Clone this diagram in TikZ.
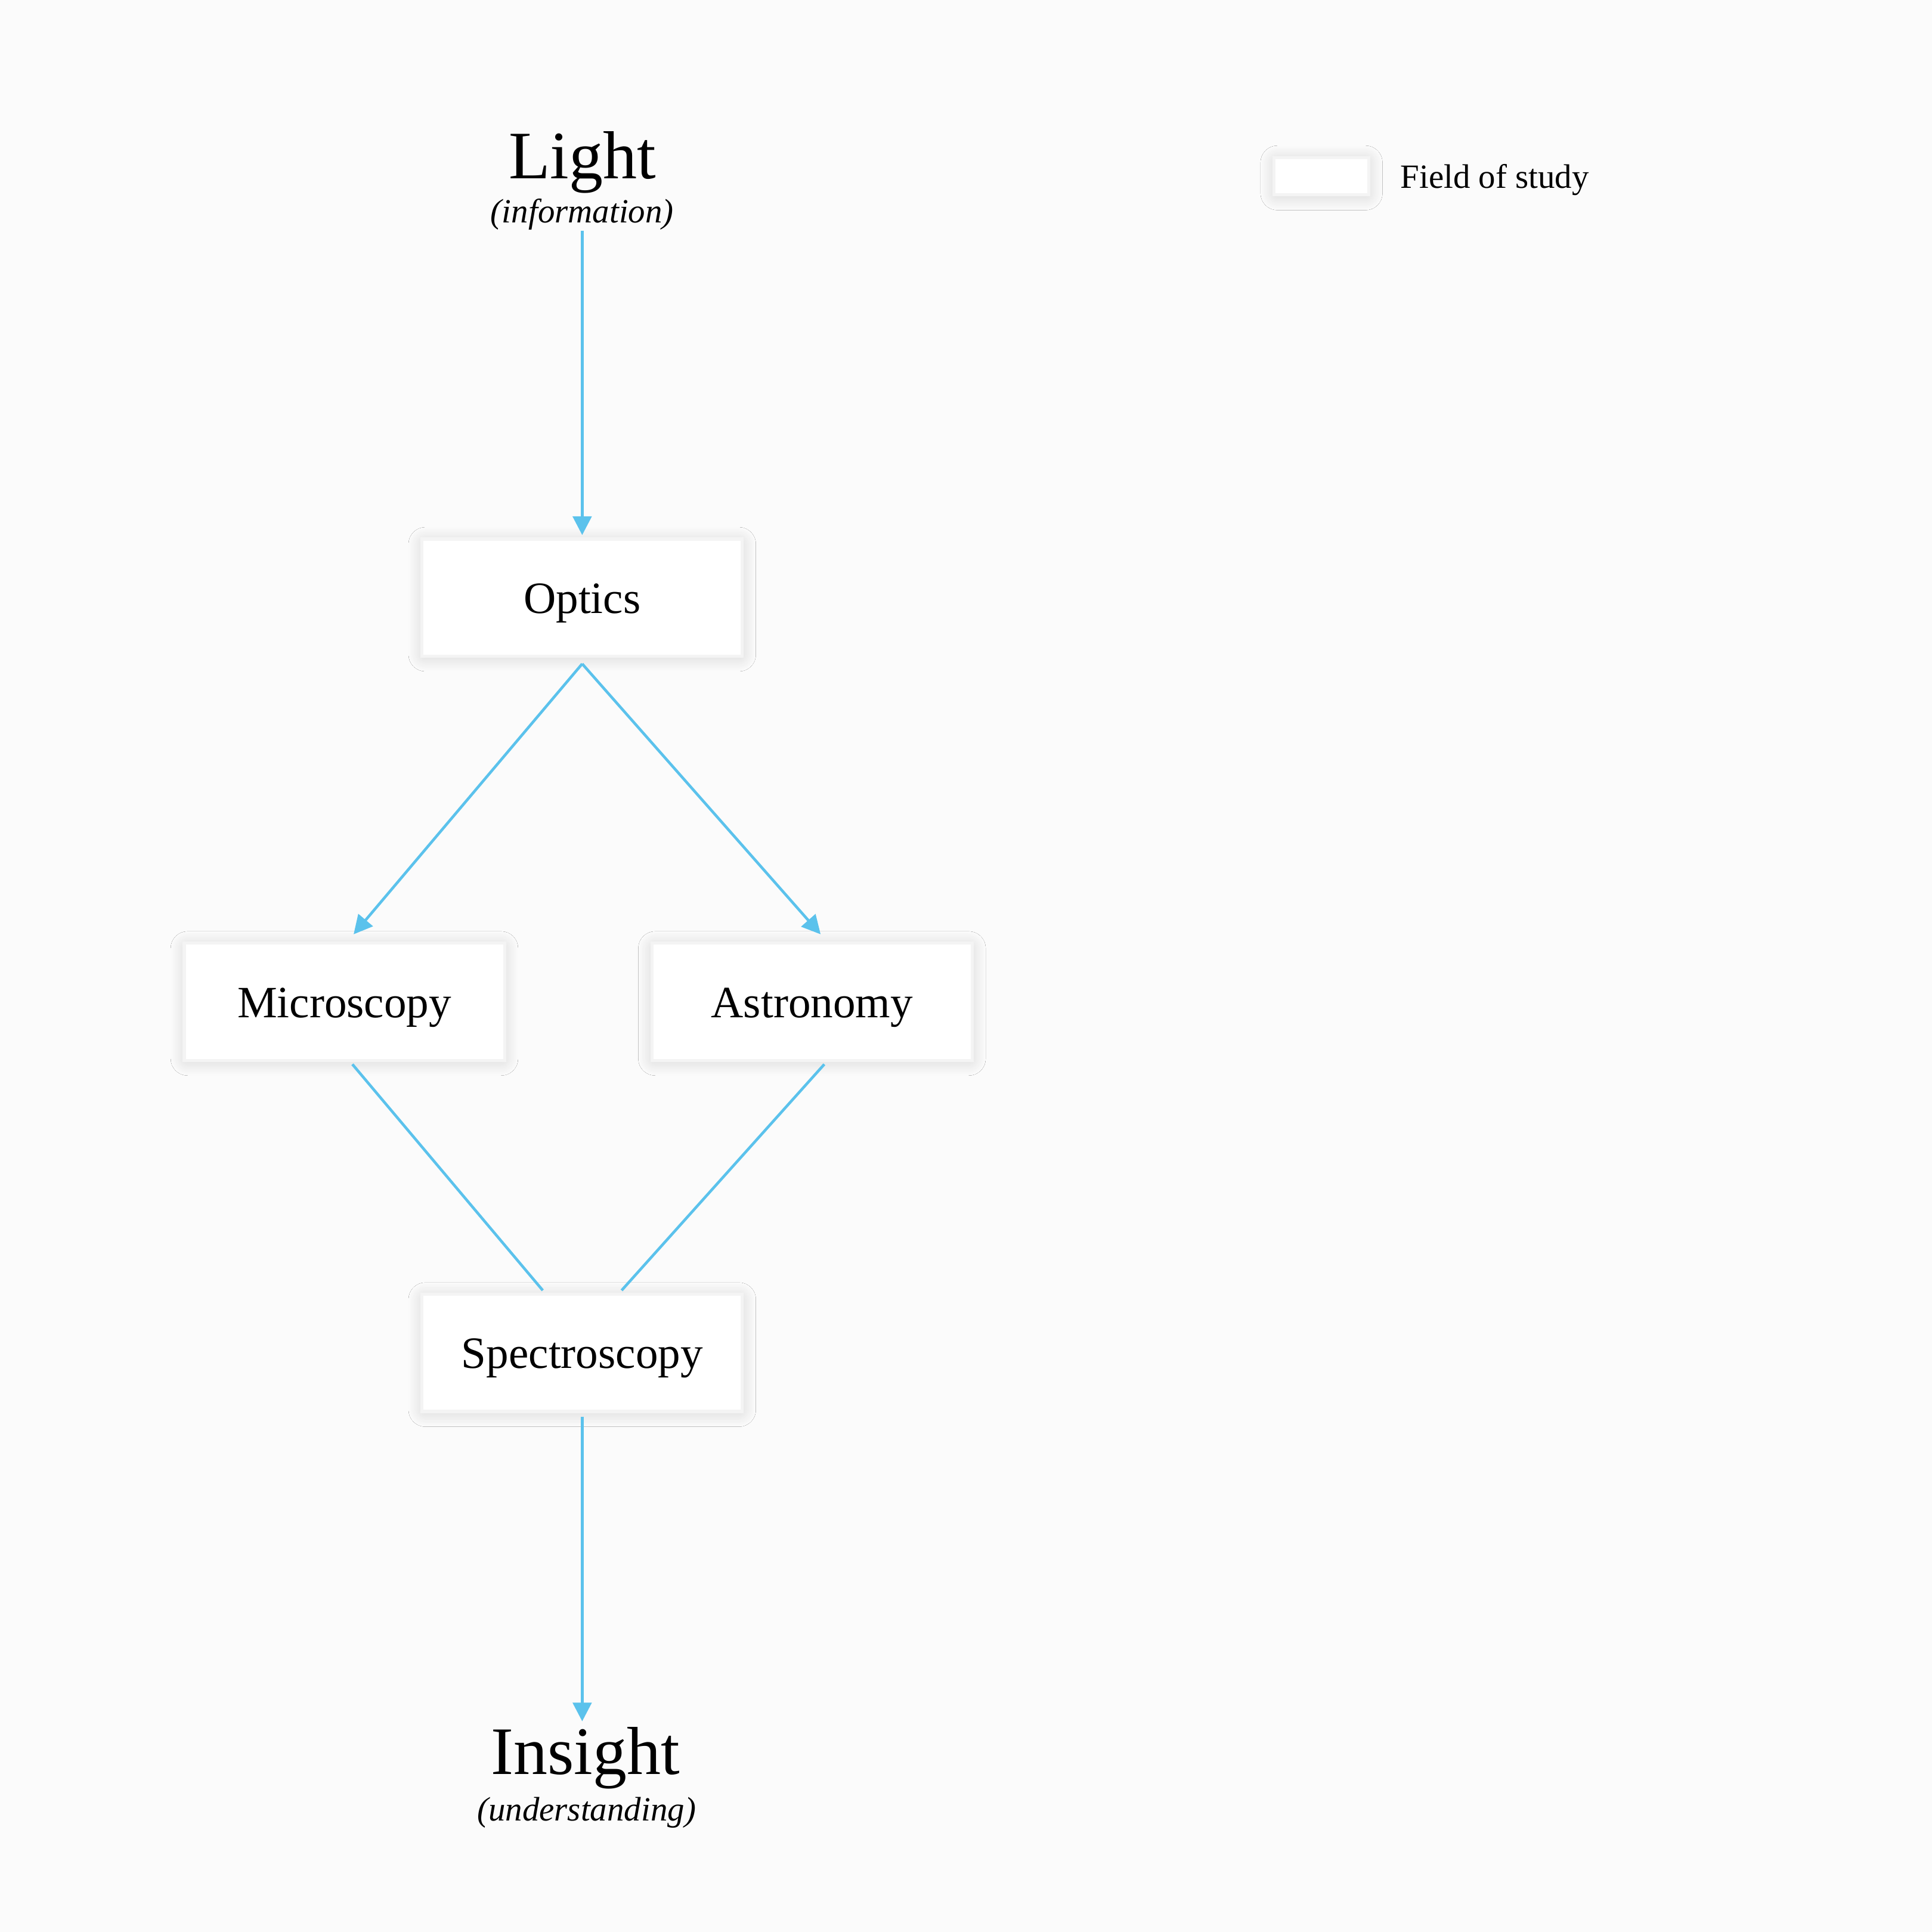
\documentclass[tikz,border=0pt]{standalone}
\usepackage{fontspec}
\setmainfont{Liberation Serif}
\usetikzlibrary{arrows.meta,calc,shadows.blur}
\definecolor{bgc}{HTML}{FBFBFB}
\definecolor{edgec}{HTML}{5BC2EC}
\definecolor{rimc}{HTML}{F4F4F4}
\tikzset{
  softshadow/.style={blur shadow={shadow xshift=0pt, shadow yshift=-0.5pt, shadow blur radius=4pt, shadow opacity=16, shadow blur steps=14, shadow blur extra rounding=1pt}},
  fieldbox/.style={rectangle, fill=white, draw=rimc, line width=0.9pt,
    minimum width=3.316cm, minimum height=1.212cm, inner sep=0pt,
    text height=2.2ex, text depth=0.2ex,
    font=\fontsize{13.2}{16}\selectfont, softshadow},
  bigtitle/.style={inner sep=0pt, font=\fontsize{20}{24}\selectfont},
  subtitle/.style={inner sep=0pt, font=\fontsize{10}{12}\selectfont\itshape},
  flow/.style={draw=edgec, line width=0.8pt},
  flowarrow/.style={flow, -{Triangle[length=5.5pt,width=5.5pt]}},
}
\begin{document}
\begin{tikzpicture}[x=0.012755cm,y=-0.012755cm]
\fill[bgc] (0,0) rectangle (1568,1568);
\useasboundingbox (0,0) rectangle (1568,1568);

% titles
\node[bigtitle, anchor=base] (light) at (472.5,145) {Light};
\node[subtitle] (info) at (472.5,174) {(information)};
\node[bigtitle, anchor=base] (insight) at (475,1440) {Insight};
\node[subtitle] (underst) at (476,1471) {(understanding)};

% boxes
\node[fieldbox] (optics) at (472.5,485) {Optics};
\node[fieldbox] (micro) at (279.5,813) {Microscopy};
\node[fieldbox] (astro) at (659,813) {Astronomy};
\node[fieldbox] (spectro) at (472.5,1098) {Spectroscopy};

% legend
\node[fieldbox, minimum width=0.982cm, minimum height=0.383cm] (legbox) at (1072.5,143) {};
\node[anchor=west, inner sep=0pt, font=\fontsize{10}{12}\selectfont] (legtext) at (1136,146) {Field of study};

% connection points
\coordinate (oS) at ($(optics.south)+(0,5)$);
\coordinate (mN) at ($(micro.north)+(7.5,-6)$);
\coordinate (aN) at ($(astro.north)+(7,-6)$);
\coordinate (mS) at ($(micro.south)+(6.5,2)$);
\coordinate (aS) at ($(astro.south)+(10,2)$);
\coordinate (sNl) at ($(spectro.north)+(-32,-2)$);
\coordinate (sNr) at ($(spectro.north)+(32,-2)$);
\coordinate (sS) at ($(spectro.south)+(0,3)$);
\coordinate (iT) at (472.5,1397);
\coordinate (oN) at ($(optics.north)+(0,-2)$);

% connectors
\draw[flowarrow] (info.south) -- (oN);
\draw[flowarrow] (oS) -- (mN);
\draw[flowarrow] (oS) -- (aN);
\draw[flow] (mS) -- (sNl);
\draw[flow] (aS) -- (sNr);
\draw[flowarrow] (sS) -- (iT);
\end{tikzpicture}
\end{document}
